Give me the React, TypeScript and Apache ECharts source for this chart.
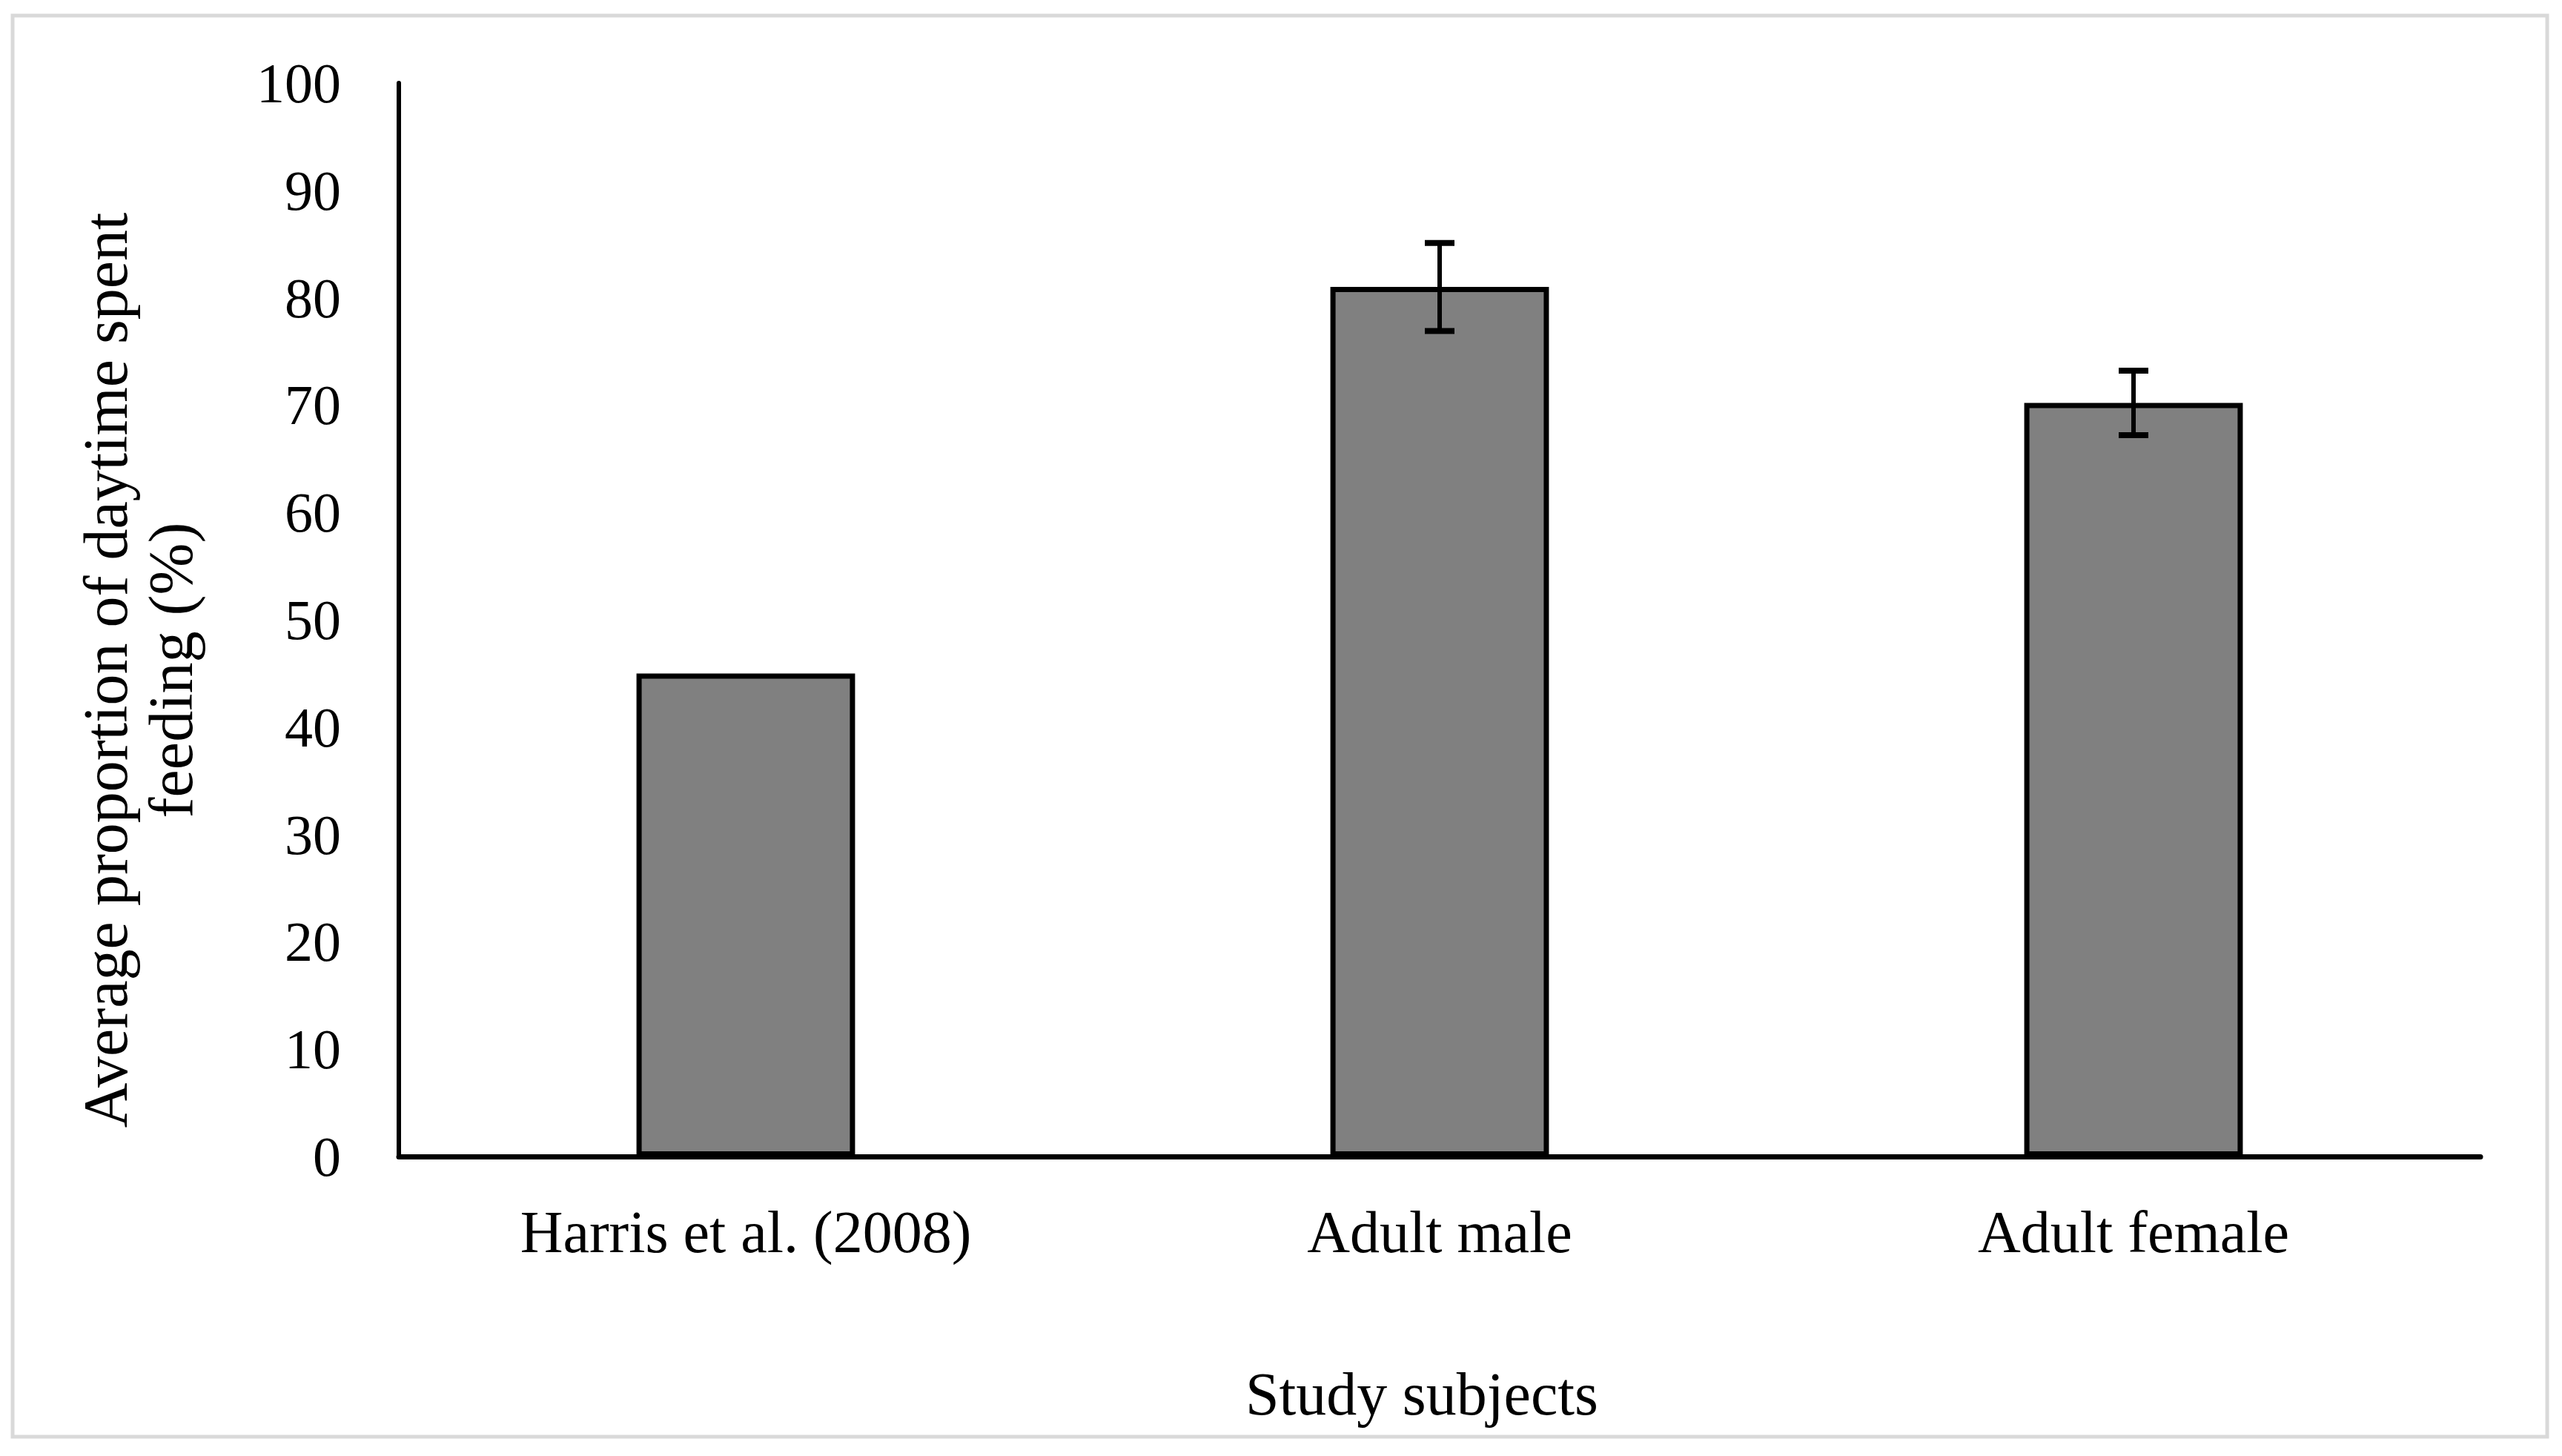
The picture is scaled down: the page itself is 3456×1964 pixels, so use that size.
import React, { useEffect, useRef } from "react";
import * as echarts from "echarts";

const categories = ["Harris et al. (2008)", "Adult male", "Adult female"];
const values = [45, 81, 70.2];
const errors: (number | null)[] = [null, 4.1, 3.0];
const yTicks = { min: 0, max: 100, interval: 10 };
const yTitleLines = ["Average proportion of daytime spent", "feeding (%)"];
const xTitle = "Study subjects";

const FONT = "Liberation Serif";

export default function App() {
  const ref = useRef<HTMLDivElement>(null);
  useEffect(() => {
    document.body.style.margin = "0";
    const chart = echarts.init(ref.current!, null, { renderer: "svg" });
    const errData = categories.map((_, i) => [i, values[i], errors[i]]);
    chart.setOption({
      animation: false,
      backgroundColor: "#ffffff",
      grid: { left: 538, right: 110, top: 112, bottom: 404 },
      xAxis: {
        type: "category",
        data: categories,
        axisLine: { lineStyle: { color: "#000", width: 7 } },
        axisTick: { show: false },
        axisLabel: { color: "#000", fontFamily: FONT, fontSize: 80, margin: 62 },
        splitLine: { show: false },
      },
      yAxis: {
        type: "value",
        min: yTicks.min,
        max: yTicks.max,
        interval: yTicks.interval,
        axisLine: { show: true, lineStyle: { color: "#000", width: 6 } },
        axisTick: { show: false },
        axisLabel: { color: "#000", fontFamily: FONT, fontSize: 76, margin: 78 },
        splitLine: { show: false },
      },
      graphic: [
        {
          type: "rect",
          shape: { x: 17, y: 21, width: 3419, height: 1917 },
          style: { fill: "none", stroke: "#d9d9d9", lineWidth: 5 },
          silent: true,
        },
        {
          type: "text",
          x: 186,
          y: 904,
          rotation: Math.PI / 2,
          style: {
            text: yTitleLines.join("\n"),
            font: `84px "${FONT}"`,
            fill: "#000",
            textAlign: "center",
            textVerticalAlign: "middle",
            lineHeight: 88,
          },
        },
        {
          type: "text",
          x: 1918,
          y: 1880,
          style: {
            text: xTitle,
            font: `82px "${FONT}"`,
            fill: "#000",
            textAlign: "center",
            textVerticalAlign: "middle",
          },
        },
      ],
      series: [
        {
          type: "bar",
          data: values,
          barWidth: "31.5%",
          itemStyle: { color: "#808080", borderColor: "#000", borderWidth: 7 },
        },
        {
          type: "custom",
          data: errData,
          z: 10,
          renderItem: (params: any, api: any) => {
            const err = api.value(2);
            if (err === null || err === undefined || isNaN(err)) return null;
            const x = api.value(0);
            const v = api.value(1);
            const top = api.coord([x, v + err]);
            const bot = api.coord([x, v - err]);
            const hw = 20;
            const style = { stroke: "#000", lineWidth: 6 };
            const cap = { stroke: "#000", lineWidth: 8 };
            return {
              type: "group",
              children: [
                { type: "line", shape: { x1: top[0], y1: top[1], x2: bot[0], y2: bot[1] }, style },
                { type: "line", shape: { x1: top[0] - hw, y1: top[1], x2: top[0] + hw, y2: top[1] }, style: cap },
                { type: "line", shape: { x1: bot[0] - hw, y1: bot[1], x2: bot[0] + hw, y2: bot[1] }, style: cap },
              ],
            };
          },
        },
      ],
    });
    return () => chart.dispose();
  }, []);
  return <div ref={ref} style={{ width: "3456px", height: "1964px" }} />;
}
